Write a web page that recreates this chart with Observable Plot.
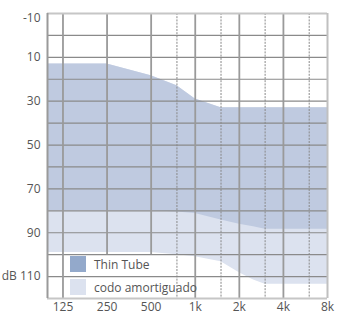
<!DOCTYPE html>
<html><head><meta charset="utf-8">
<script src="https://cdn.jsdelivr.net/npm/d3@7"></script>
<script src="https://cdn.jsdelivr.net/npm/@observablehq/plot@0.6"></script>
<style>
body{margin:0;background:#fff;}
#wrap{position:relative;width:337px;height:314px;font-family:"Open Sans",sans-serif;}
.leg{position:absolute;left:70px;font-size:12px;color:#555;display:flex;align-items:center;height:16px;white-space:nowrap;}
.sw{width:16px;height:16px;margin-right:8px;}
</style></head><body><div id="wrap"></div>
<script>
// Data
const xMin = 98;
const freqs      = [98, 125, 250, 500, 750, 1000, 1500, 2000, 2500, 3000, 4000, 8000];
const thinTop    = [13, 13, 13, 18.4, 22.9, 29, 33, 33, 33, 33, 33, 33];
const thinBottom = [80, 80, 80, 80, 80.6, 81.2, 84.2, 86.1, 87.3, 88.4, 88.4, 88.4];
const codoBottom = [99, 99, 99, 99, 100, 101, 103.2, 108.2, 111.6, 113.5, 113.5, 113.5];
const seriesNames = ["Thin Tube", "codo amortiguado"];
const seriesColors = ["#93a9cb", "#dce2ef"];
const fillColors = ["#bfcae0", "#dce2ef"];
const xTicks = [125, 250, 500, 1000, 2000, 4000, 8000];
const xTickLabels = ["125", "250", "500", "1k", "2k", "4k", "8k"];
const dottedFreqs = [750, 1500, 3000, 6000];
const solidFreqs = [125, 250, 500, 1000, 2000, 4000];
const solidEnds  = [120, 100, 100, 120, 120, 120];
const hGrid = [0, 10, 20, 30, 40, 50, 60, 70, 80, 90, 100, 110];
const yTicks = [10, 30, 50, 70, 90, 110];
const yTickLabels = ["10", "30", "50", "70", "90", "dB 110"];

const rows = freqs.map((f, i) => ({f, top: thinTop[i], tb: thinBottom[i], cb: codoBottom[i]}));
const solid = solidFreqs.map((f, i) => ({f, start: -10, end: solidEnds[i]}));

const chart = Plot.plot({
  width: 337, height: 314,
  marginLeft: 47, marginRight: 10, marginTop: 13, marginBottom: 16,
  style: {fontFamily: '"Open Sans", sans-serif', fontSize: "12px", color: "#555", background: "#fff"},
  x: {type: "log", domain: [xMin, 8000], axis: null, label: null},
  y: {domain: [-10, 120], reverse: true, axis: null, label: null},
  marks: [
    Plot.areaY(rows, {x: "f", y1: "top", y2: "cb", fill: fillColors[1]}),
    Plot.areaY(rows, {x: "f", y1: "top", y2: "tb", fill: fillColors[0]}),
    Plot.ruleY(hGrid, {y: d => d, stroke: "#8a8a8a", strokeWidth: 1.2}),
    Plot.ruleX(solid, {x: "f", y1: "start", y2: "end", stroke: "#9a9a9a", strokeWidth: 1.8}),
    Plot.ruleX(dottedFreqs, {x: d => d, stroke: "#888", strokeWidth: 1, strokeDasharray: "2,1.2"}),
    Plot.ruleY([-10, 120], {y: d => d, stroke: "#c6c6c6", strokeWidth: 2}),
    Plot.ruleX([8000], {x: d => d, stroke: "#c0c0c0", strokeWidth: 2}),
    Plot.ruleX([xMin], {x: d => d, stroke: "#9a9a9a", strokeWidth: 2}),
    Plot.text(yTicks, {y: d => d, frameAnchor: "left", dx: -7, textAnchor: "end", text: (d, i) => yTickLabels[i], fill: "#555", fontSize: 12}),
    Plot.text([-10], {y: d => d, frameAnchor: "left", dx: -7, dy: 5, textAnchor: "end", text: d => String(d), fill: "#555", fontSize: 12}),
    Plot.text(xTicks, {x: d => d, frameAnchor: "bottom", dy: 12, text: (d, i) => xTickLabels[i], fill: "#555", fontSize: 12})
  ]
});
const wrap = document.getElementById("wrap");
wrap.appendChild(chart);
const tops = [256, 279];
seriesNames.forEach((name, i) => {
  const d = document.createElement("div");
  d.className = "leg";
  d.style.top = tops[i] + "px";
  d.innerHTML = `<span class="sw" style="background:${seriesColors[i]}"></span><span>${name}</span>`;
  wrap.appendChild(d);
});
</script>
</body></html>
